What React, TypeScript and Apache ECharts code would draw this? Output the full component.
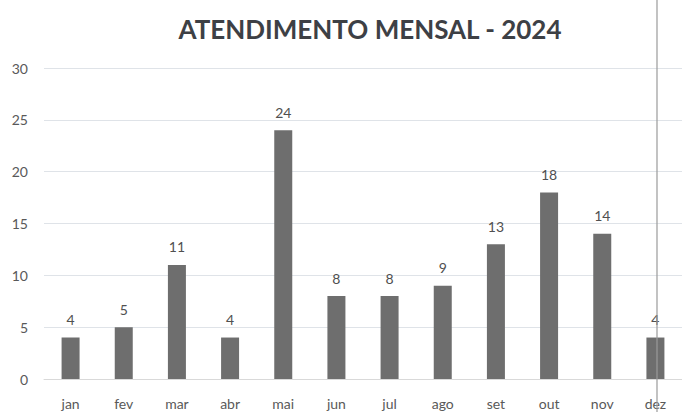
import React, { useEffect, useRef } from "react";
import * as echarts from "echarts";

const months = ["jan", "fev", "mar", "abr", "mai", "jun", "jul", "ago", "set", "out", "nov", "dez"];
const atendimentos = [4, 5, 11, 4, 24, 8, 8, 9, 13, 18, 14, 4];
const titleText = "ATENDIMENTO MENSAL - 2024";

export default function App() {
  const ref = useRef<HTMLDivElement>(null);
  useEffect(() => {
    if (!ref.current) return;
    const chart = echarts.init(ref.current, null, { renderer: "svg" });
    chart.setOption({
      animation: false,
      backgroundColor: "#ffffff",
      title: {
        text: titleText,
        left: 365,
        textAlign: "center",
        top: 11,
        textStyle: { fontFamily: "Lato", fontWeight: "bold", fontSize: 26, color: "#3d4045" },
      },
      grid: { left: 44, right: -4, top: 68, bottom: 33, containLabel: false },
      xAxis: {
        type: "category",
        data: months,
        axisTick: { show: false },
        axisLine: { lineStyle: { color: "#d9d9d9", width: 1 } },
        axisLabel: { color: "#595959", fontFamily: "Lato", fontSize: 14, margin: 17 },
      },
      yAxis: {
        type: "value",
        min: 0,
        max: 30,
        interval: 5,
        axisLine: { show: false },
        axisTick: { show: false },
        splitLine: { lineStyle: { color: "#dfe3e8", width: 1 } },
        axisLabel: { color: "#595959", fontFamily: "Lato", fontSize: 14, margin: 16 },
      },
      series: [
        {
          type: "bar",
          data: atendimentos,
          barWidth: 18,
          itemStyle: { color: "#6e6e6e" },
          label: {
            show: true,
            position: "top",
            distance: 11,
            color: "#505050",
            fontFamily: "Lato",
            fontSize: 14,
          },
        },
      ],
      graphic: [
        {
          type: "line",
          shape: { x1: 657, y1: 0, x2: 657, y2: 412 },
          style: { stroke: "#9a9a9a", lineWidth: 1.2 },
          z: 100,
        },
      ],
    });
    return () => chart.dispose();
  }, []);
  return <div ref={ref} style={{ width: 682, height: 412, position: "absolute", left: 0, top: 0 }} />;
}
